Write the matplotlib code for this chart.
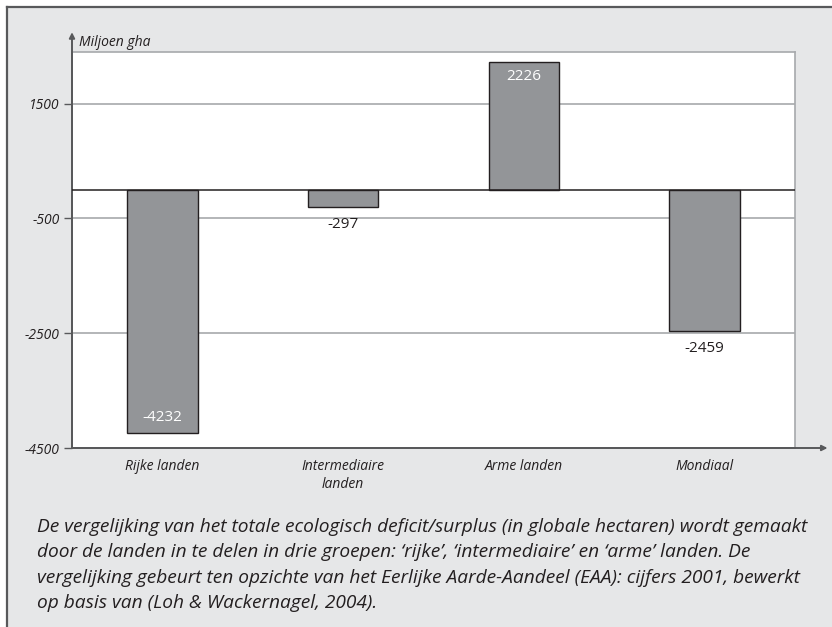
import matplotlib.pyplot as plt
from matplotlib.patches import Rectangle
from matplotlib.lines import Line2D

# ---------------------------------------------
# Data (miljoen gha, cijfers 2001)
# ---------------------------------------------
categories = ["Rijke landen", "Intermediaire\nlanden", "Arme landen", "Mondiaal"]
values = [-4232, -297, 2226, -2459]
inside_label = [True, False, True, False]

yticks = [-4500, -2500, -500, 1500]
grid_lines = [-2500, -500, 1500]

caption = ("De vergelijking van het totale ecologisch deficit/surplus (in globale hectaren) wordt gemaakt\n"
           "door de landen in te delen in drie groepen: \u2018rijke\u2019, \u2018intermediaire\u2019 en \u2018arme\u2019 landen. De\n"
           "vergelijking gebeurt ten opzichte van het Eerlijke Aarde-Aandeel (EAA): cijfers 2001, bewerkt\n"
           "op basis van (Loh & Wackernagel, 2004).")

plt.rcParams["font.family"] = ["Open Sans", "DejaVu Sans"]

W, H = 832, 627
fig = plt.figure(figsize=(W / 100, H / 100), dpi=100)
fig.patch.set_facecolor("white")

# grey panel with a rule on top and on the left
panel = "#e6e7e8"
fig.patches.append(Rectangle((7 / W, 0), 1, 1 - 7 / H, transform=fig.transFigure,
                             facecolor=panel, edgecolor="none", zorder=-10))
fig.lines.append(Line2D([7 / W, 1], [1 - 7 / H, 1 - 7 / H], transform=fig.transFigure,
                        color="#58595b", lw=1.6, zorder=-5))
fig.lines.append(Line2D([7 / W, 7 / W], [0, 1 - 7 / H], transform=fig.transFigure,
                        color="#58595b", lw=1.6, zorder=-5))

ax = fig.add_axes([72 / W, 1 - 448 / H, (795 - 72) / W, (448 - 52) / H])
ax.set_zorder(1)
ax.set_facecolor("white")

x = list(range(len(categories)))
ax.bar(x, values, width=0.39, color="#939598", edgecolor="#231f20", linewidth=1.0, zorder=3)

for g in grid_lines:
    ax.axhline(g, color="#a7a9ac", lw=1.2, zorder=1)
ax.axhline(0, color="#231f20", lw=1.1, zorder=4)

ax.set_xlim(-0.5, 3.5)
ax.set_ylim(-4500, 2400)

ax.set_yticks(yticks)
ax.set_yticklabels([str(t) for t in yticks], fontstyle="italic", fontsize=10, color="#231f20")
ax.set_xticks(x)
ax.set_xticklabels(categories, fontstyle="italic", fontsize=10, color="#231f20", linespacing=1.3)
ax.tick_params(axis="y", length=6, width=1.0, color="#58595b", pad=3)
ax.tick_params(axis="x", length=0, pad=8)

for side in ["top", "right"]:
    ax.spines[side].set_color("#a7a9ac")
    ax.spines[side].set_linewidth(1.2)
for side in ["left", "bottom"]:
    ax.spines[side].set_color("#58595b")
    ax.spines[side].set_linewidth(1.4)

# axis arrows
ax.annotate("", xy=(0, 1.05), xytext=(0, 0), xycoords="axes fraction",
            arrowprops=dict(arrowstyle="-|>", color="#58595b", lw=1.4,
                            mutation_scale=8, shrinkA=0, shrinkB=0))
ax.annotate("", xy=(1.045, 0), xytext=(0, 0), xycoords="axes fraction",
            arrowprops=dict(arrowstyle="-|>", color="#58595b", lw=1.4,
                            mutation_scale=8, shrinkA=0, shrinkB=0))
ax.text(0.01, 1.025, "Miljoen gha", transform=ax.transAxes, fontstyle="italic",
        fontsize=10, color="#231f20", va="center", ha="left")

# value labels
for xi, v, inside in zip(x, values, inside_label):
    sign = 1 if v > 0 else -1
    off = -15 * sign if inside else 18 * sign
    ax.annotate(str(v), xy=(xi, v), xytext=(0, off), textcoords="offset pixels",
                ha="center", va="center", fontsize=11,
                color="white" if inside else "#231f20", zorder=5)

fig.text(37 / W, 1 - 518 / H, caption, fontstyle="italic", fontsize=13.8,
         color="#231f20", ha="left", va="top", linespacing=1.52)

fig.savefig("out.png", dpi=100)
